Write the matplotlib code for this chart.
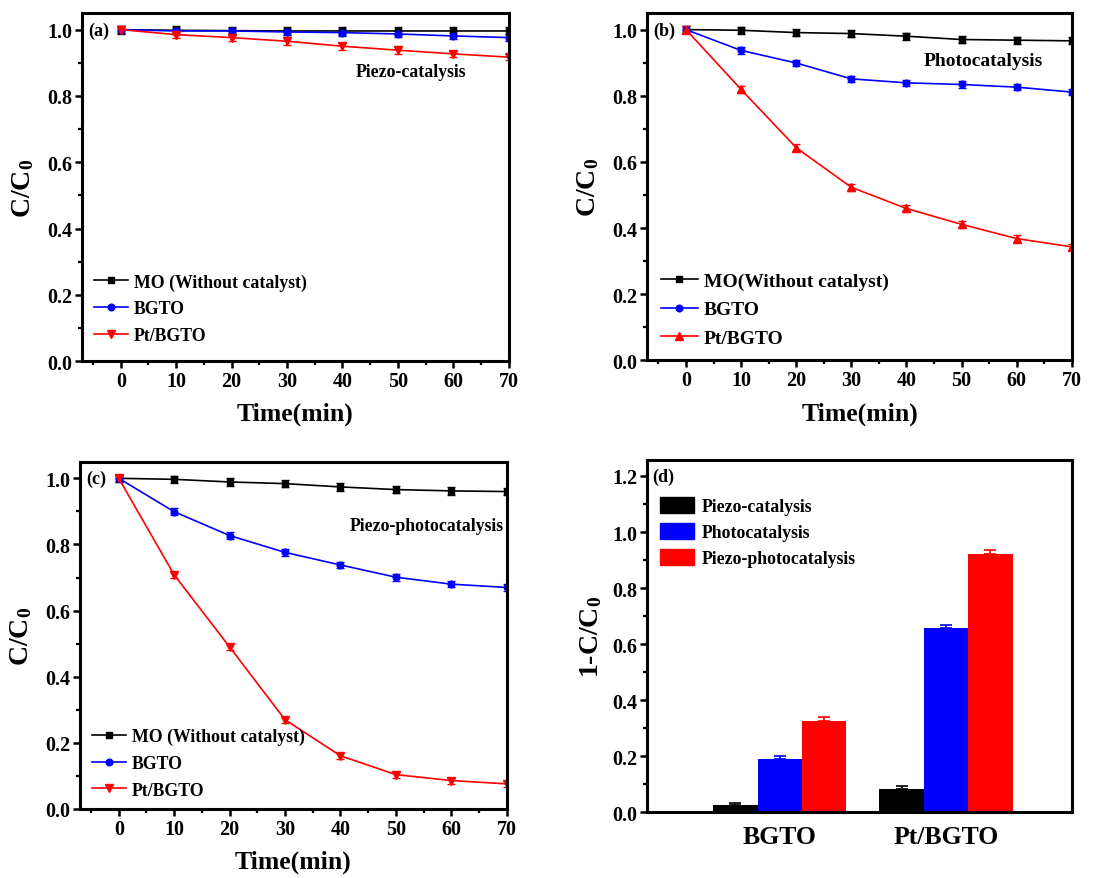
import numpy as np
import matplotlib
matplotlib.use('Agg')
import matplotlib.pyplot as plt
from matplotlib.patches import Patch
from matplotlib.lines import Line2D

# ---------------- data ----------------
time_min = [0, 10, 20, 30, 40, 50, 60, 70]

# (a) piezo-catalysis
a_mo = [1.000, 0.998, 0.997, 0.996, 0.996, 0.996, 0.996, 0.996]
a_bgto = [1.000, 0.996, 0.996, 0.993, 0.991, 0.987, 0.981, 0.976]
a_pt = [1.000, 0.985, 0.976, 0.965, 0.950, 0.938, 0.927, 0.917]
a_err = [0.012, 0.010, 0.010]

# (b) photocatalysis
b_mo = [1.000, 0.998, 0.991, 0.988, 0.980, 0.970, 0.968, 0.966]
b_bgto = [1.000, 0.937, 0.899, 0.851, 0.839, 0.834, 0.826, 0.811]
b_pt = [1.000, 0.819, 0.643, 0.523, 0.459, 0.411, 0.368, 0.343]
b_err = [0.011, 0.010, 0.010]

# (c) piezo-photocatalysis
c_mo = [1.000, 0.997, 0.989, 0.984, 0.974, 0.966, 0.962, 0.960]
c_bgto = [1.000, 0.899, 0.827, 0.776, 0.738, 0.701, 0.680, 0.670]
c_pt = [1.000, 0.708, 0.490, 0.270, 0.161, 0.104, 0.086, 0.076]
c_err = [0.011, 0.010, 0.009]

# (d) 1-C/C0 after 70 min
samples = ['BGTO', 'Pt/BGTO']
modes = ['Piezo-catalysis', 'Photocatalysis', 'Piezo-photocatalysis']
d_vals = {'Piezo-catalysis': [0.024, 0.081],
          'Photocatalysis': [0.189, 0.656],
          'Piezo-photocatalysis': [0.326, 0.922]}
d_err = {'Piezo-catalysis': [0.010, 0.012],
         'Photocatalysis': [0.010, 0.012],
         'Piezo-photocatalysis': [0.012, 0.012]}

# ---------------- style ----------------
plt.rcParams['font.family'] = ['Liberation Serif', 'DejaVu Serif']
plt.rcParams['font.weight'] = 'bold'
plt.rcParams['axes.labelweight'] = 'bold'
plt.rcParams['mathtext.fontset'] = 'custom'
plt.rcParams['mathtext.rm'] = 'Liberation Serif:bold'
plt.rcParams['mathtext.bf'] = 'Liberation Serif:bold'
plt.rcParams['mathtext.it'] = 'Liberation Serif:bold:italic'

TICK_FS = 14.5
LABEL_FS = 18.5
LEG_FS = 12.8

fig = plt.figure(figsize=(11.2, 8.79), dpi=100)
fig.patch.set_facecolor('white')

ax_a = fig.add_axes([0.0732, 0.588, 0.381, 0.396])
ax_b = fig.add_axes([0.578, 0.589, 0.379, 0.395])
ax_c = fig.add_axes([0.0714, 0.0785, 0.381, 0.395])
ax_d = fig.add_axes([0.578, 0.075, 0.379, 0.4005])


def style_axis(ax):
    for s in ax.spines.values():
        s.set_linewidth(2.2)
    ax.tick_params(which='major', direction='out', length=5, width=1.8,
                   labelsize=TICK_FS, pad=2)
    ax.tick_params(which='minor', direction='out', length=3, width=1.6)
    for lab in ax.get_xticklabels() + ax.get_yticklabels():
        lab.set_fontweight('bold')


def kinetic_panel(ax, mo, bgto, pt, errs, pt_marker, mo_label, tag, note, note_xy,
                  leg_y, leg_fs):
    ax.errorbar(time_min, mo, yerr=errs[0], color='black', marker='s', ms=4.8,
                lw=1.2, capsize=3, elinewidth=1.2, label=mo_label)
    ax.errorbar(time_min, bgto, yerr=errs[1], color='#0000ff', marker='o', ms=4.8,
                lw=1.2, capsize=3, elinewidth=1.2, label='BGTO')
    ax.errorbar(time_min, pt, yerr=errs[2], color='#ff0000', marker=pt_marker, ms=5.2,
                lw=1.2, capsize=3, elinewidth=1.2, label='Pt/BGTO')
    ax.set_xlim(-7, 70)
    ax.set_ylim(0, 1.05)
    ax.set_xticks(np.arange(0, 71, 10))
    ax.set_xticks(np.arange(-5, 70, 10), minor=True)
    ax.set_yticks(np.arange(0, 1.01, 0.2))
    ax.set_yticks(np.arange(0.1, 1.05, 0.2), minor=True)
    ax.yaxis.set_major_formatter(matplotlib.ticker.FormatStrFormatter('%.1f'))
    ax.set_xlabel('Time(min)', fontsize=LABEL_FS, fontweight='bold', labelpad=8)
    ax.set_ylabel('C/C$_0$', fontsize=20, fontweight='bold', labelpad=8)
    ax.text(0.014, 0.951, tag, transform=ax.transAxes, fontsize=13,
            fontweight='bold', va='center', ha='left')
    ax.text(note_xy[0], note_xy[1], note, fontsize=leg_fs, fontweight='bold',
            ha='center', va='center')
    handles = [Line2D([], [], color='black', marker='s', ms=4.8, lw=1.2),
               Line2D([], [], color='#0000ff', marker='o', ms=4.8, lw=1.2),
               Line2D([], [], color='#ff0000', marker=pt_marker, ms=5.2, lw=1.2)]
    ax.legend(handles, [mo_label, 'BGTO', 'Pt/BGTO'], loc='lower left',
              bbox_to_anchor=(0.0, leg_y), frameon=False,
              prop={'size': leg_fs, 'weight': 'bold'}, handlelength=1.9,
              labelspacing=0.55, handletextpad=0.3, borderaxespad=0.3)
    style_axis(ax)


kinetic_panel(ax_a, a_mo, a_bgto, a_pt, a_err, 'v', 'MO (Without catalyst)',
              '(a)', 'Piezo-catalysis', (52.3, 0.873), 0.013, LEG_FS)
kinetic_panel(ax_b, b_mo, b_bgto, b_pt, b_err, '^', 'MO(Without catalyst)',
              '(b)', 'Photocatalysis', (53.9, 0.906), 0.0, 14)
kinetic_panel(ax_c, c_mo, c_bgto, c_pt, c_err, 'v', 'MO (Without catalyst)',
              '(c)', 'Piezo-photocatalysis', (55.5, 0.858), -0.006, LEG_FS)

# ---------------- (d) bars ----------------
bar_colors = {'Piezo-catalysis': '#000000',
              'Photocatalysis': '#0000ff',
              'Piezo-photocatalysis': '#ff0000'}
w = 0.267
centers = np.array([1, 2])
for i, m in enumerate(modes):
    xs = centers + (i - 1) * w
    vals = d_vals[m]
    errs = d_err[m]
    ax_d.bar(xs, vals, width=w, color=bar_colors[m], edgecolor='none', label=m)
    ax_d.errorbar(xs, vals, yerr=[[0, 0], errs], fmt='none',
                  ecolor=bar_colors[m], capsize=4, elinewidth=1.2, capthick=1.2)
ax_d.set_xlim(0.204, 2.757)
ax_d.set_ylim(0, 1.257)
ax_d.set_xticks(centers)
ax_d.set_xticklabels(samples, fontsize=LABEL_FS, fontweight='bold')
ax_d.set_yticks(np.arange(0, 1.21, 0.2))
ax_d.set_yticks(np.arange(0.1, 1.25, 0.2), minor=True)
ax_d.yaxis.set_major_formatter(matplotlib.ticker.FormatStrFormatter('%.1f'))
ax_d.set_ylabel('1-C/C$_0$', fontsize=20, fontweight='bold', labelpad=6)
ax_d.text(0.012, 0.955, '(d)', transform=ax_d.transAxes, fontsize=13,
          fontweight='bold', va='center', ha='left')
handles = [Patch(color=bar_colors[m]) for m in modes]
ax_d.legend(handles, modes, loc='upper left', bbox_to_anchor=(0.0, 0.93),
            frameon=False, prop={'size': LEG_FS, 'weight': 'bold'},
            handlelength=1.95, handleheight=1.0, labelspacing=0.45,
            handletextpad=0.4, borderaxespad=0.3)
style_axis(ax_d)
ax_d.tick_params(axis='x', which='both', length=0, pad=9, labelsize=LABEL_FS)
ax_d.xaxis.set_minor_locator(matplotlib.ticker.NullLocator())

fig.savefig('out.png', dpi=100, facecolor='white')
